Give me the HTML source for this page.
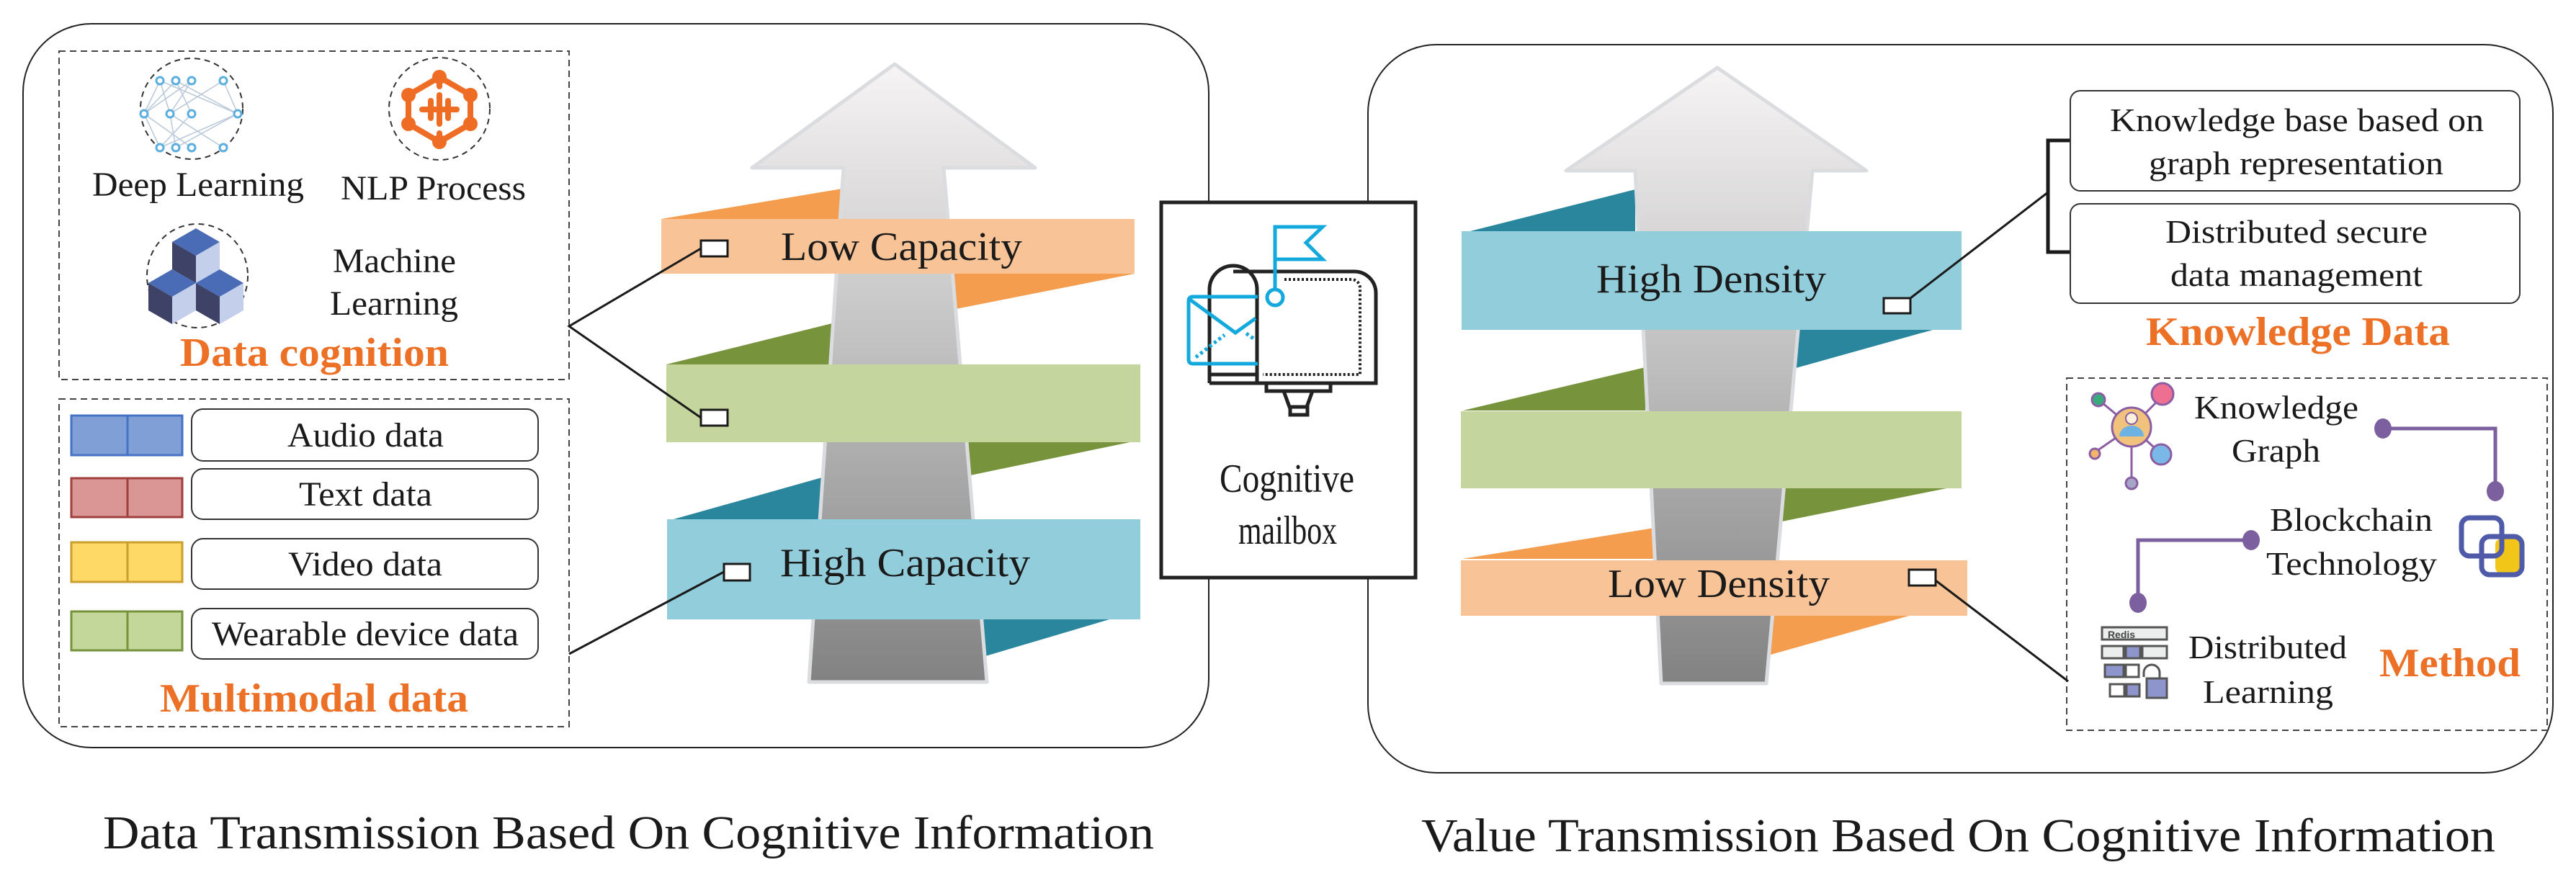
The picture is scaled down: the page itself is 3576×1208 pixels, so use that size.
<!DOCTYPE html>
<html><head><meta charset="utf-8"><style>
html,body{margin:0;padding:0;background:#fff;}
svg{display:block;}
svg text{font-family:"Liberation Serif","Noto Serif CJK SC","DejaVu Serif",serif;fill:#1a1a1a;}
svg text.o{fill:#ec7126;font-weight:bold;}
</style></head><body>
<svg width="3576" height="1208" viewBox="0 0 3576 1208" xmlns="http://www.w3.org/2000/svg" font-family="'Liberation Serif', 'Noto Serif CJK SC', 'DejaVu Serif', serif">
<defs>
<linearGradient id="ag" x1="0" y1="0" x2="0" y2="1">
<stop offset="0" stop-color="#f6f4f4"/><stop offset="0.5" stop-color="#bdbcbd"/><stop offset="1" stop-color="#828282"/>
</linearGradient>
</defs>
<rect x="32" y="33" width="1646" height="1005" rx="95" fill="none" stroke="#222" stroke-width="2"/>
<rect x="1899" y="62" width="1645" height="1011" rx="95" fill="none" stroke="#222" stroke-width="2"/>
<rect x="82" y="71" width="708" height="456" fill="none" stroke="#444" stroke-width="2" stroke-dasharray="9,6"/>
<rect x="82" y="554" width="708" height="455" fill="none" stroke="#444" stroke-width="2" stroke-dasharray="9,6"/>
<rect x="2869" y="525" width="667" height="489" fill="none" stroke="#444" stroke-width="2" stroke-dasharray="9,6"/>

<ellipse cx="266" cy="151" rx="71" ry="70" fill="none" stroke="#333" stroke-width="2" stroke-dasharray="8,6"/>
<g stroke="#b8c8d8" stroke-width="1.5">
<line x1="222" y1="112" x2="200" y2="158"/><line x1="222" y1="112" x2="236" y2="158"/><line x1="222" y1="112" x2="330" y2="158"/>
<line x1="244" y1="112" x2="200" y2="158"/><line x1="244" y1="112" x2="266" y2="158"/><line x1="244" y1="112" x2="330" y2="158"/>
<line x1="266" y1="112" x2="200" y2="158"/><line x1="266" y1="112" x2="236" y2="158"/><line x1="310" y1="112" x2="236" y2="158"/>
<line x1="200" y1="158" x2="222" y2="205"/><line x1="200" y1="158" x2="266" y2="205"/><line x1="236" y1="158" x2="310" y2="205"/>
<line x1="266" y1="158" x2="222" y2="205"/><line x1="330" y1="158" x2="244" y2="205"/><line x1="330" y1="158" x2="222" y2="205"/>
<line x1="310" y1="112" x2="330" y2="158"/><line x1="236" y1="158" x2="244" y2="205"/>
</g>
<g fill="#fff" stroke="#5aaee0" stroke-width="3">
<circle cx="222" cy="112" r="5"/><circle cx="244" cy="112" r="5"/><circle cx="266" cy="112" r="5"/><circle cx="310" cy="112" r="5"/>
<circle cx="200" cy="158" r="5"/><circle cx="236" cy="158" r="5"/><circle cx="266" cy="158" r="5"/><circle cx="330" cy="158" r="5"/>
<circle cx="222" cy="205" r="5"/><circle cx="244" cy="205" r="5"/><circle cx="266" cy="205" r="5"/><circle cx="310" cy="205" r="5"/>
</g>
<ellipse cx="610" cy="151" rx="70" ry="71" fill="none" stroke="#333" stroke-width="2" stroke-dasharray="8,6"/>
<g stroke="#ef6c24" stroke-width="8" fill="none" stroke-linecap="round">
<polygon points="610,107 653,132 653,172 610,197 567,172 567,132"/>
<line x1="586" y1="152" x2="634" y2="152"/>
<line x1="598" y1="140" x2="598" y2="164"/><line x1="610" y1="132" x2="610" y2="172"/><line x1="622" y1="140" x2="622" y2="164"/>
<line x1="610" y1="107" x2="610" y2="120"/><line x1="610" y1="185" x2="610" y2="197"/>
</g>
<g fill="#ef6c24"><circle cx="610" cy="107" r="10"/><circle cx="610" cy="197" r="10"/><circle cx="653" cy="132" r="10"/><circle cx="567" cy="132" r="10"/><circle cx="653" cy="172" r="10"/><circle cx="567" cy="172" r="10"/></g>
<ellipse cx="274" cy="383" rx="70" ry="72" fill="none" stroke="#333" stroke-width="2" stroke-dasharray="8,6"/>
<g>
<polygon points="272,317 305,336 272,355 239,336" fill="#4a6bb5"/>
<polygon points="239,336 272,355 272,393 239,374" fill="#3d4266"/>
<polygon points="272,355 305,336 305,374 272,393" fill="#c3cfeb"/>
<polygon points="239,374 272,393 239,412 206,393" fill="#4a6bb5"/>
<polygon points="206,393 239,412 239,450 206,431" fill="#3d4266"/>
<polygon points="239,412 272,393 272,431 239,450" fill="#c3cfeb"/>
<polygon points="305,374 338,393 305,412 272,393" fill="#4a6bb5"/>
<polygon points="272,393 305,412 305,450 272,431" fill="#3d4266"/>
<polygon points="305,412 338,393 338,431 305,450" fill="#c3cfeb"/>
</g>
<text x="128" y="272" font-size="48" textLength="294" lengthAdjust="spacingAndGlyphs">Deep Learning</text>
<text x="473" y="277" font-size="48" textLength="257" lengthAdjust="spacingAndGlyphs">NLP Process</text>
<text x="462" y="378" font-size="48" textLength="171" lengthAdjust="spacingAndGlyphs">Machine</text>
<text x="458" y="437" font-size="48" textLength="178" lengthAdjust="spacingAndGlyphs">Learning</text>
<text class="o" x="250" y="508" font-size="56" textLength="373" lengthAdjust="spacingAndGlyphs">Data cognition</text>

<g stroke-width="3">
<rect x="99" y="577" width="154" height="55" fill="#7f9fd6" stroke="#4472c4"/><line x1="177" y1="577" x2="177" y2="632" stroke="#4472c4"/>
<rect x="99" y="664" width="154" height="54" fill="#d99694" stroke="#a0403c"/><line x1="177" y1="664" x2="177" y2="718" stroke="#a0403c"/>
<rect x="99" y="753" width="154" height="55" fill="#ffd966" stroke="#c9a030"/><line x1="177" y1="753" x2="177" y2="808" stroke="#c9a030"/>
<rect x="99" y="849" width="154" height="54" fill="#c4d79b" stroke="#76933c"/><line x1="177" y1="849" x2="177" y2="903" stroke="#76933c"/>
</g>
<g fill="#fff" stroke="#333" stroke-width="2">
<rect x="266" y="568" width="481" height="72" rx="16"/>
<rect x="266" y="651" width="481" height="70" rx="16"/>
<rect x="266" y="748" width="481" height="70" rx="16"/>
<rect x="266" y="845" width="481" height="70" rx="16"/>
</g>
<text x="399" y="620" font-size="48" textLength="217" lengthAdjust="spacingAndGlyphs">Audio data</text>
<text x="415" y="702" font-size="48" textLength="185" lengthAdjust="spacingAndGlyphs">Text data</text>
<text x="400" y="799" font-size="48" textLength="214" lengthAdjust="spacingAndGlyphs">Video data</text>
<text x="294" y="896" font-size="48" textLength="426" lengthAdjust="spacingAndGlyphs">Wearable device data</text>
<text class="o" x="222" y="988" font-size="56" textLength="428" lengthAdjust="spacingAndGlyphs">Multimodal data</text>

<polygon points="918,304 1169,262 1169,304" fill="#f59d4f"/>
<polygon points="1323,380 1575,380 1327,429" fill="#f59d4f"/>
<polygon points="925,506 1155,449 1155,506" fill="#77933c"/>
<polygon points="1343,614 1583,611 1347,660" fill="#77933c"/>
<polygon points="935,721 1141,663 1141,721" fill="#2a869c"/>
<polygon points="1364,860 1547,858 1368,911" fill="#2a869c"/>
<polygon points="1242,89 1437,233 1310,233 1370,947 1123,947 1171,233 1044,233" fill="url(#ag)" stroke="#dadcdf" stroke-width="5" stroke-linejoin="round"/>
<rect x="918" y="304" width="657" height="76" fill="#f8c396"/>
<rect x="925" y="506" width="658" height="108" fill="#c4d69e"/>
<rect x="926" y="721" width="657" height="139" fill="#92cddc"/>
<text x="1084" y="361" font-size="56" textLength="335" lengthAdjust="spacingAndGlyphs">Low Capacity</text>
<text x="1083" y="800" font-size="56" textLength="347" lengthAdjust="spacingAndGlyphs">High Capacity</text>
<g stroke="#1a1a1a" stroke-width="3" fill="none">
<polyline points="973,345 790,453 973,580"/>
<line x1="790" y1="908" x2="1005" y2="794"/>
</g>
<g fill="#fff" stroke="#1a1a1a" stroke-width="3">
<rect x="973" y="334" width="37" height="22"/>
<rect x="973" y="569" width="37" height="22"/>
<rect x="1005" y="783" width="36" height="23"/>
</g>

<rect x="1612" y="281" width="353" height="521" fill="#fff" stroke="#222" stroke-width="5"/>
<g fill="none" stroke="#222" stroke-width="5">
<path d="M1679,532 V402 A33,33 0 0 1 1745,402 V532"/>
<path d="M1712,377 H1880 A30,30 0 0 1 1910,407 V532 H1679"/>
<line x1="1679" y1="520" x2="1745" y2="520"/>
<rect x="1758" y="532" width="89" height="11"/>
<polygon points="1782,543 1822,543 1814,565 1790,565"/>
<rect x="1791" y="565" width="24" height="11"/>
</g>
<path d="M1783,388 H1876 A12,12 0 0 1 1888,400 V520 H1753" fill="none" stroke="#222" stroke-width="4" stroke-dasharray="3,3"/>
<g fill="none" stroke="#13a9dd" stroke-width="5">
<path d="M1746,412 H1656 Q1650,412 1650,418 V499 Q1650,505 1656,505 H1746"/>
<polyline points="1652,416 1715,462 1743,442"/>
<line x1="1660" y1="496" x2="1700" y2="465" stroke-dasharray="4,4"/>
<line x1="1730" y1="463" x2="1743" y2="472" stroke-dasharray="4,4"/>
<line x1="1770" y1="401" x2="1770" y2="315"/>
<polygon points="1770,315 1836,315 1813,337 1836,360 1770,360"/>
<circle cx="1770" cy="413" r="11"/>
</g>
<text x="1693" y="683" font-size="56" textLength="187" lengthAdjust="spacingAndGlyphs">Cognitive</text>
<text x="1719" y="755" font-size="56" textLength="137" lengthAdjust="spacingAndGlyphs">mailbox</text>

<polygon points="2041,321 2270,263 2270,321" fill="#2a869c"/>
<polygon points="2495,458 2683,458 2493,511" fill="#2a869c"/>
<polygon points="2031,570 2284,510 2284,570" fill="#77933c"/>
<polygon points="2477,677 2722,674 2474,724" fill="#77933c"/>
<polygon points="2030,776 2296,733 2296,776" fill="#f59d4f"/>
<polygon points="2458,855 2650,855 2458,909" fill="#f59d4f"/>
<polygon points="2384,94 2591,237 2516,237 2452,949 2306,949 2270,237 2174,237" fill="url(#ag)" stroke="#dadcdf" stroke-width="5" stroke-linejoin="round"/>
<rect x="2029" y="321" width="694" height="137" fill="#92cddc"/>
<rect x="2028" y="571" width="695" height="107" fill="#c4d69e"/>
<rect x="2028" y="778" width="703" height="77" fill="#f8c396"/>
<text x="2216" y="406" font-size="56" textLength="319" lengthAdjust="spacingAndGlyphs">High Density</text>
<text x="2232" y="829" font-size="56" textLength="308" lengthAdjust="spacingAndGlyphs">Low Density</text>
<g stroke="#1a1a1a" stroke-width="3" fill="none">
<line x1="2652" y1="414" x2="2843" y2="267"/>
<polyline points="2874,195 2843,195 2843,350 2874,350" stroke-width="5"/>
<line x1="2687" y1="806" x2="2871" y2="946"/>
</g>
<g fill="#fff" stroke="#1a1a1a" stroke-width="3">
<rect x="2615" y="414" width="37" height="21"/>
<rect x="2650" y="791" width="37" height="22"/>
</g>
<g fill="#fff" stroke="#333" stroke-width="2">
<rect x="2874" y="126" width="624" height="139" rx="14"/>
<rect x="2874" y="283" width="624" height="138" rx="14"/>
</g>
<text x="2929" y="182" font-size="46" textLength="519" lengthAdjust="spacingAndGlyphs">Knowledge base based on</text>
<text x="2983" y="242" font-size="46" textLength="409" lengthAdjust="spacingAndGlyphs">graph representation</text>
<text x="3006" y="337" font-size="46" textLength="364" lengthAdjust="spacingAndGlyphs">Distributed secure</text>
<text x="3013" y="397" font-size="46" textLength="350" lengthAdjust="spacingAndGlyphs">data management</text>
<text class="o" x="2979" y="479" font-size="56" textLength="422" lengthAdjust="spacingAndGlyphs">Knowledge Data</text>

<g stroke="#8b5ea3" stroke-width="3" fill="none">
<line x1="2959" y1="593" x2="2913" y2="555"/><line x1="2959" y1="593" x2="3002" y2="550"/>
<line x1="2959" y1="593" x2="2908" y2="628"/><line x1="2959" y1="593" x2="3000" y2="630"/><line x1="2959" y1="593" x2="2959" y2="665"/>
</g>
<circle cx="2913" cy="555" r="9" fill="#3aaa7e" stroke="#8b5ea3" stroke-width="3"/>
<circle cx="3002" cy="547" r="15" fill="#ee6f92" stroke="#8b5ea3" stroke-width="3"/>
<circle cx="2908" cy="630" r="7" fill="#f2b66a" stroke="#8b5ea3" stroke-width="3"/>
<circle cx="3000" cy="631" r="14" fill="#7ab8e8" stroke="#8b5ea3" stroke-width="3"/>
<circle cx="2959" cy="671" r="8" fill="#a5a5c7" stroke="#8b5ea3" stroke-width="3"/>
<circle cx="2959" cy="593" r="27" fill="#f0c27c" stroke="#8b5ea3" stroke-width="3"/>
<circle cx="2959" cy="581" r="8" fill="#fdf0dc" stroke="#8b5ea3" stroke-width="2"/>
<path d="M2942,606 a17,15 0 0 1 34,0 z" fill="#6cb3e4"/>
<text x="3046" y="581" font-size="46" textLength="228" lengthAdjust="spacingAndGlyphs">Knowledge</text>
<text x="3098" y="641" font-size="46" textLength="123" lengthAdjust="spacingAndGlyphs">Graph</text>
<text x="3151" y="737" font-size="46" textLength="226" lengthAdjust="spacingAndGlyphs">Blockchain</text>
<text x="3146" y="798" font-size="46" textLength="237" lengthAdjust="spacingAndGlyphs">Technology</text>
<text x="3038" y="914" font-size="46" textLength="220" lengthAdjust="spacingAndGlyphs">Distributed</text>
<text x="3058" y="976" font-size="46" textLength="181" lengthAdjust="spacingAndGlyphs">Learning</text>
<text class="o" x="3303" y="939" font-size="56" textLength="196" lengthAdjust="spacingAndGlyphs">Method</text>
<g stroke="#7b5f9e" stroke-width="5" fill="none">
<polyline points="3308,595 3464,595 3464,682"/>
<polyline points="3125,750 2968,750 2968,837"/>
</g>
<g fill="#7b5f9e">
<ellipse cx="3308" cy="595" rx="12" ry="14"/><ellipse cx="3464" cy="682" rx="12" ry="14"/>
<ellipse cx="3125" cy="750" rx="12" ry="14"/><ellipse cx="2968" cy="837" rx="12" ry="14"/>
</g>
<rect x="3464" y="748" width="40" height="48" rx="8" fill="#f2c618"/>
<rect x="3417" y="719" width="56" height="53" rx="11" fill="none" stroke="#4f5aa8" stroke-width="7"/>
<rect x="3445" y="745" width="56" height="53" rx="11" fill="none" stroke="#4f5aa8" stroke-width="7"/>
<g stroke="#555" stroke-width="3">
<rect x="2918" y="871" width="90" height="17" fill="#eceeee"/>
<rect x="2918" y="897" width="30" height="17" fill="#eceeee"/><rect x="2951" y="897" width="20" height="17" fill="#8d95cc"/><rect x="2974" y="897" width="34" height="17" fill="#eceeee"/>
<rect x="2922" y="923" width="26" height="17" fill="#8d95cc"/><rect x="2951" y="923" width="18" height="17" fill="#fff"/>
<rect x="2929" y="950" width="20" height="17" fill="#fff"/><rect x="2952" y="950" width="18" height="17" fill="#8d95cc"/>
<path d="M2976,940 v-6 a11,11 0 0 1 22,0 v10" fill="none"/>
<rect x="2980" y="942" width="28" height="27" fill="#8d95cc"/>
</g>
<text x="2945" y="886" font-size="14" text-anchor="middle" style="font-family:'Liberation Sans',sans-serif;font-weight:bold;fill:#444">Redis</text>

<text x="143" y="1178" font-size="66" textLength="1459" lengthAdjust="spacingAndGlyphs">Data Transmission Based On Cognitive Information</text>
<text x="1973" y="1182" font-size="66" textLength="1491" lengthAdjust="spacingAndGlyphs">Value Transmission Based On Cognitive Information</text>
</svg>
</body></html>
